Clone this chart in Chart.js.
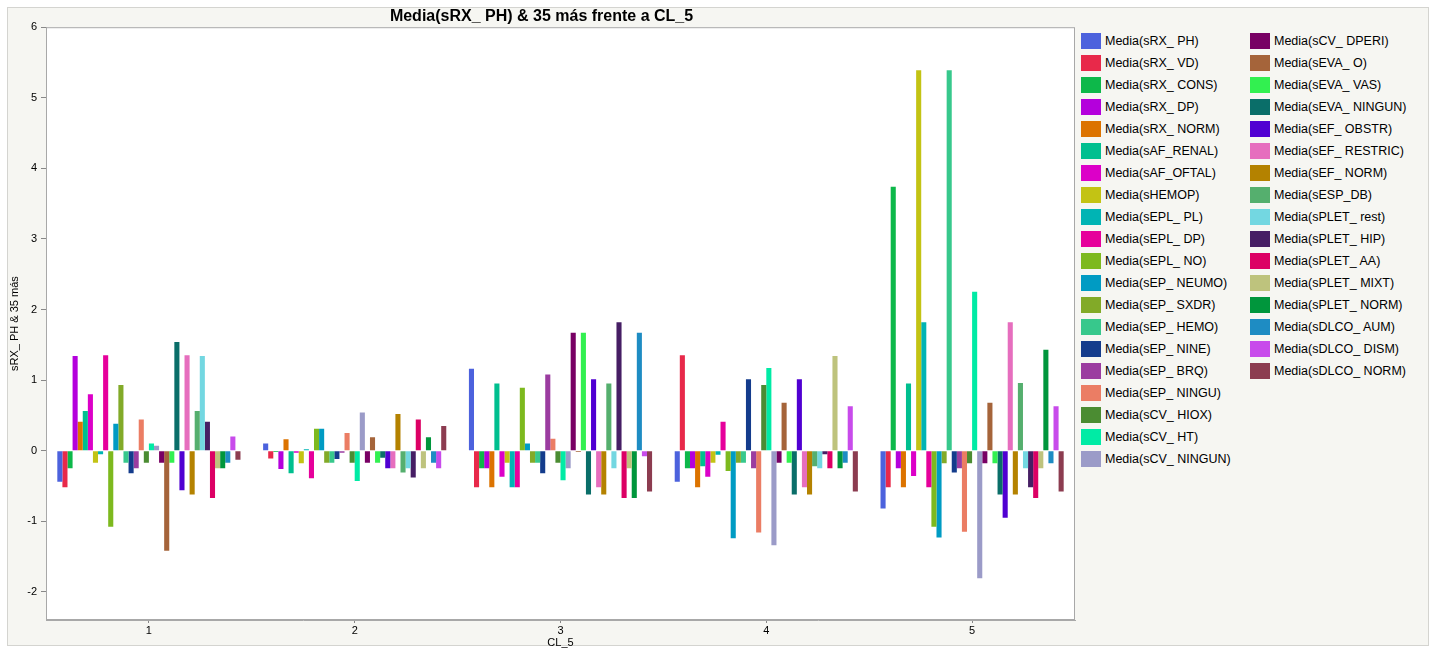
<!DOCTYPE html>
<html>
<head>
<meta charset="utf-8">
<script src="https://cdn.jsdelivr.net/npm/chart.js@4.4.0/dist/chart.umd.min.js"></script>
<style>
	body{margin:0;background:#fff;font-family:"Liberation Sans",Arial,sans-serif;}
	#frame{position:absolute;left:7px;top:7px;width:1420px;height:637px;background:#f6f6f2;border:1px solid #d4d4d0;}
	#chart{position:absolute;left:0;top:0;}
	#legend{position:absolute;left:1081px;top:30px;font-size:12.5px;color:#000;}
	.col{position:absolute;top:0;width:170px;}
	.item{height:22px;display:flex;align-items:center;white-space:nowrap;}
	.sw{width:20px;height:16px;margin-right:4px;flex:none;}
</style>
</head>
<body>
<div id="frame"></div>
<canvas id="chart" width="1080" height="650"></canvas>
<div id="legend"></div>
<script>
const categories = ["1", "2", "3", "4", "5"]
const yTicks = [-2, -1, 0, 1, 2, 3, 4, 5, 6]
const titleText = "Media(sRX_ PH) & 35 más frente a CL_5"

const seriesNames = ["sRX_ PH", "sRX_ VD", "sRX_ CONS", "sRX_ DP", "sRX_ NORM", "sAF_RENAL", "sAF_OFTAL", "sHEMOP",
	"sEPL_ PL", "sEPL_ DP", "sEPL_ NO", "sEP_ NEUMO", "sEP_ SXDR", "sEP_ HEMO", "sEP_ NINE", "sEP_ BRQ", "sEP_ NINGU",
	"sCV_ HIOX", "sCV_ HT", "sCV_ NINGUN", "sCV_ DPERI", "sEVA_ O", "sEVA_ VAS", "sEVA_ NINGUN", "sEF_ OBSTR",
	"sEF_ RESTRIC", "sEF_ NORM", "sESP_DB", "sPLET_ rest", "sPLET_ HIP", "sPLET_ AA", "sPLET_ MIXT", "sPLET_ NORM",
	"sDLCO_ AUM", "sDLCO_ DISM", "sDLCO_ NORM"]

const seriesColors = ["#4c62dd", "#e8294a", "#0db84a", "#b400dc", "#dc7300", "#00bf8f", "#dc00c8", "#c3c314",
	"#00b4b4", "#e6009b", "#7db91e", "#009bc3", "#82aa28", "#37c88c", "#143c8c", "#9b3ca0", "#eb7d64",
	"#4b8c32", "#00eba5", "#9b9bc8", "#780064", "#a5643a", "#32f050", "#0a6e69", "#5000d2",
	"#e66ebe", "#b48200", "#55af6e", "#73d7e1", "#461e64", "#dc0064", "#bec37d", "#00963c",
	"#1e8cc3", "#c84beb", "#8c3c50"]

// one array per CL_5 group, same order as seriesNames
const cl1 = [-0.44, -0.52, -0.25, 1.34, 0.41, 0.56, 0.80, -0.17, -0.05, 1.35, -1.08, 0.38, 0.93, -0.17, -0.32, -0.25, 0.44,
	-0.17, 0.10, 0.07, -0.17, -1.42, -0.17, 1.54, -0.56, 1.35, -0.62, 0.56, 1.34, 0.41, -0.67, -0.25, -0.25, -0.17, 0.20, -0.13]
const cl2 = [0.10, -0.11, -0.02, -0.26, 0.16, -0.32, -0.03, -0.18, 0.02, -0.39, 0.31, 0.31, -0.17, -0.17, -0.12, -0.03, 0.25,
	-0.17, -0.43, 0.54, -0.17, 0.19, -0.17, -0.10, -0.25, -0.25, 0.52, -0.31, -0.25, -0.38, 0.44, -0.25, 0.19, -0.17, -0.25, 0.35]
const cl3 = [1.16, -0.52, -0.25, -0.25, -0.52, 0.95, -0.37, -0.17, -0.52, -0.52, 0.89, 0.10, -0.17, -0.17, -0.32, 1.08, 0.17,
	-0.17, -0.42, -0.25, 1.67, -0.02, 1.67, -0.62, 1.01, -0.52, -0.62, 0.95, -0.25, 1.82, -0.67, -0.25, -0.67, 1.67, -0.08, -0.58]
const cl4 = [-0.44, 1.35, -0.25, -0.25, -0.52, -0.22, -0.37, -0.17, -0.06, 0.41, -0.29, -1.24, -0.17, -0.17, 1.01, -0.25, -1.16,
	0.93, 1.17, -1.34, -0.17, 0.68, -0.17, -0.62, 1.01, -0.52, -0.62, -0.22, -0.25, -0.05, -0.25, 1.34, -0.25, -0.17, 0.63, -0.58]
const cl5 = [-0.82, -0.52, 3.74, -0.25, -0.52, 0.95, -0.36, 5.39, 1.82, -0.52, -1.08, -1.23, -0.18, 5.39, -0.31, -0.25, -1.15,
	-0.18, 2.25, -1.81, -0.18, 0.68, -0.18, -0.62, -0.95, 1.82, -0.62, 0.96, -0.25, -0.52, -0.67, -0.25, 1.43, -0.18, 0.63, -0.58]

const groups = [cl1, cl2, cl3, cl4, cl5]
const fontFam = "'Liberation Sans', Arial, sans-serif"

const datasets = seriesNames.map((name, i) => ({
	label: "Media(" + name + ")",
	data: groups.map(g => g[i]),
	backgroundColor: seriesColors[i],
	borderWidth: 0,
	barPercentage: 1,
	categoryPercentage: 0.89
}))

// white plot area + grey frame
const plotFrame = {
	id: "plotFrame",
	beforeDraw(chart){
		const a = chart.chartArea
		chart.ctx.save()
		chart.ctx.fillStyle = "#fff"
		chart.ctx.fillRect(a.left, a.top, a.right - a.left, a.bottom - a.top)
		chart.ctx.restore()
	},
	afterDraw(chart){
		const a = chart.chartArea
		chart.ctx.save()
		chart.ctx.strokeStyle = "#a8a8a8"
		chart.ctx.lineWidth = 1
		chart.ctx.strokeRect(a.left + 0.5, a.top + 0.5, a.right - a.left - 1, a.bottom - a.top - 1)
		chart.ctx.restore()
	}
}

new Chart("chart", {
	type: "bar",
	data: {labels: categories, datasets: datasets},
	plugins: [plotFrame],
	options: {
		responsive: false,
		animation: false,
		layout: {padding: {left: 8, right: 5, top: 0, bottom: 0}},
		plugins: {
			legend: {display: false},
			tooltip: {enabled: false},
			title: {
				display: true,
				text: titleText,
				color: "#000",
				font: {family: fontFam, size: 16, weight: "bold"},
				padding: {top: 7, bottom: 1}
			}
		},
		scales: {
			x: {
				grid: {offset: false, drawOnChartArea: false, drawTicks: true, tickLength: 3, color: "#888"},
				border: {color: "#a8a8a8"},
				ticks: {color: "#000", font: {family: fontFam, size: 11}, padding: 1},
				title: {display: true, text: "CL_5", color: "#000", font: {family: fontFam, size: 11}, padding: 0},
				afterFit(s){ s.height = 30 }
			},
			y: {
				min: -2.4,
				max: 6,
				afterBuildTicks(s){ s.ticks = yTicks.map(v => ({value: v})) },
				grid: {drawOnChartArea: false, drawTicks: true, tickLength: 5, color: "#888"},
				border: {color: "#a8a8a8"},
				ticks: {color: "#000", font: {family: fontFam, size: 11}, padding: 4},
				title: {display: true, text: "sRX_ PH & 35 más", color: "#000", font: {family: fontFam, size: 11}, padding: {top: 0, bottom: 0}},
				afterFit(s){ s.width = 38 }
			}
		}
	}
})

// legend in two columns (20 + 16)
const legendDiv = document.getElementById("legend")
const cols = [document.createElement("div"), document.createElement("div")]
cols[0].className = "col"
cols[1].className = "col"
cols[0].style.left = "0px"
cols[1].style.left = "169px"
seriesNames.forEach((name, i) => {
	const item = document.createElement("div")
	item.className = "item"
	item.innerHTML = '<span class="sw" style="background:' + seriesColors[i] + '"></span>Media(' + name + ')'
	cols[i < 20 ? 0 : 1].appendChild(item)
})
legendDiv.appendChild(cols[0])
legendDiv.appendChild(cols[1])
</script>
</body>
</html>
